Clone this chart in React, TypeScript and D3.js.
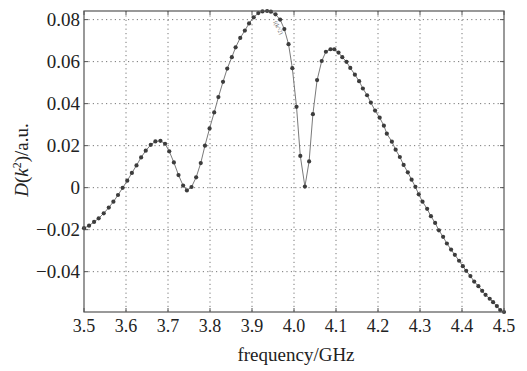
import React from "react";
import * as d3 from "d3";

const freq = [
  3.5, 3.512, 3.524, 3.535, 3.547, 3.559, 3.57, 3.581, 3.592, 3.603, 3.614, 3.625, 3.636, 3.647, 3.659, 3.67, 3.682, 3.693, 3.703, 3.714,
  3.725, 3.736, 3.745, 3.756, 3.767, 3.778, 3.788, 3.799, 3.81, 3.82, 3.831, 3.841, 3.852, 3.861, 3.872, 3.883, 3.893, 3.904, 3.915, 3.925,
  3.936, 3.945, 3.956, 3.967, 3.977, 3.987, 3.996, 4.006, 4.015, 4.026, 4.036, 4.045, 4.055, 4.066, 4.076, 4.087, 4.096, 4.106, 4.115, 4.125,
  4.134, 4.145, 4.155, 4.164, 4.174, 4.183, 4.193, 4.204, 4.214, 4.221, 4.233, 4.242, 4.252, 4.261, 4.271, 4.28, 4.289, 4.297, 4.306, 4.317,
  4.326, 4.336, 4.345, 4.355, 4.364, 4.374, 4.383, 4.393, 4.402, 4.41, 4.42, 4.429, 4.439, 4.448, 4.456, 4.466, 4.474, 4.483, 4.491, 4.5,
];
const dval = [
  -0.0193, -0.0181, -0.0163, -0.0146, -0.0122, -0.0095, -0.0067, -0.0035, -0.0001, 0.0033, 0.007, 0.0106, 0.0144, 0.0176, 0.0204, 0.022, 0.0223, 0.0209, 0.0173, 0.012,
  0.006, 0.001, -0.0013, 0.0003, 0.0049, 0.0117, 0.02, 0.0282, 0.0358, 0.0431, 0.0504, 0.0567, 0.0621, 0.0668, 0.0713, 0.0748, 0.0782, 0.0811, 0.0831, 0.0839,
  0.0841, 0.0838, 0.0825, 0.08, 0.0755, 0.0683, 0.0569, 0.0385, 0.0151, 0.0005, 0.0125, 0.035, 0.0512, 0.0603, 0.0647, 0.0659, 0.0659, 0.0643, 0.0621, 0.0599,
  0.057, 0.0538, 0.0507, 0.0472, 0.044, 0.0405, 0.0367, 0.0333, 0.0295, 0.0257, 0.0219, 0.0181, 0.0146, 0.0108, 0.0073, 0.0038, 0.0004, -0.0032, -0.0067, -0.0101,
  -0.0136, -0.0168, -0.0203, -0.0234, -0.0266, -0.0295, -0.032, -0.0348, -0.0374, -0.0396, -0.0421, -0.0447, -0.0469, -0.0491, -0.051, -0.0529, -0.0545, -0.0564, -0.0583, -0.0592,
];
const xTicks = [3.5, 3.6, 3.7, 3.8, 3.9, 4.0, 4.1, 4.2, 4.3, 4.4, 4.5];
const xTickLabels = ["3.5", "3.6", "3.7", "3.8", "3.9", "4.0", "4.1", "4.2", "4.3", "4.4", "4.5"];
const yTicks = [-0.04, -0.02, 0, 0.02, 0.04, 0.06, 0.08];
const yTickLabels = ["\u22120.04", "\u22120.02", "0", "0.02", "0.04", "0.06", "0.08"];

const W = 527, H = 371;
const L = 84, R = 504, T = 11, B = 312;
const FONT = "'Liberation Serif', 'Times New Roman', serif";

export default function App() {
  const x = d3.scaleLinear().domain([3.5, 4.5]).range([L, R]);
  const y = d3.scaleLinear().domain([-0.0592, 0.0841]).range([B, T]);
  const pts = freq.map((f, i) => [f, dval[i]] as [number, number]);
  const line = d3.line<[number, number]>().x((d) => x(d[0])).y((d) => y(d[1]));
  const axisColor = "#555";
  return (
    <div style={{ position: "fixed", left: 0, top: 0 }}>
      <svg width={W} height={H} style={{ display: "block", background: "#fff" }}>
        <rect x={0} y={0} width={W} height={H} fill="#fff" />
        {xTicks.slice(1, -1).map((t) => (
          <line key={"gx" + t} x1={x(t)} x2={x(t)} y1={T} y2={B} stroke="#777" strokeWidth={1} strokeDasharray="1.2,3.2" />
        ))}
        {yTicks.map((t) => (
          <line key={"gy" + t} x1={L} x2={R} y1={y(t)} y2={y(t)} stroke="#777" strokeWidth={1} strokeDasharray="1.2,3.2" />
        ))}
        {xTicks.map((t) => (
          <g key={"tx" + t}>
            <line x1={x(t)} x2={x(t)} y1={B} y2={B - 4} stroke={axisColor} />
            <line x1={x(t)} x2={x(t)} y1={T} y2={T + 4} stroke={axisColor} />
          </g>
        ))}
        {yTicks.map((t) => (
          <g key={"ty" + t}>
            <line x1={L} x2={L + 4} y1={y(t)} y2={y(t)} stroke={axisColor} />
            <line x1={R} x2={R - 4} y1={y(t)} y2={y(t)} stroke={axisColor} />
          </g>
        ))}
        <path d={line(pts) || ""} fill="none" stroke="#7a7a7a" strokeWidth={1} />
        {pts.map((p, i) => (
          <circle key={i} cx={x(p[0])} cy={y(p[1])} r={2.1} fill="#3c3c3c" />
        ))}
        <rect x={L} y={T} width={R - L} height={B - T} fill="none" stroke={axisColor} strokeWidth={1.2} />
        <text x={273} y={22} fontSize={6} fill="#666" fontFamily={FONT} transform="rotate(62 273 22)">f(k^2)</text>
        {xTicks.map((t, i) => (
          <text key={"lx" + t} x={x(t)} y={332} fontSize={18} fontFamily={FONT} textAnchor="middle" fill="#222">
            {xTickLabels[i]}
          </text>
        ))}
        {yTicks.map((t, i) => (
          <text key={"ly" + t} x={80} y={y(t) + 6} fontSize={19} fontFamily={FONT} textAnchor="end" fill="#222">
            {yTickLabels[i]}
          </text>
        ))}
        <text x={296} y={361} fontSize={19} fontFamily={FONT} textAnchor="middle" fill="#222">
          frequency/GHz
        </text>
        <text transform="translate(28,160) rotate(-90)" fontSize={19} fontFamily={FONT} textAnchor="middle" fill="#222">
          <tspan fontStyle="italic">D</tspan>(<tspan fontStyle="italic">k</tspan>
          <tspan fontSize={12} dy={-7}>2</tspan>
          <tspan dy={7}>)/a.u.</tspan>
        </text>
      </svg>
    </div>
  );
}
